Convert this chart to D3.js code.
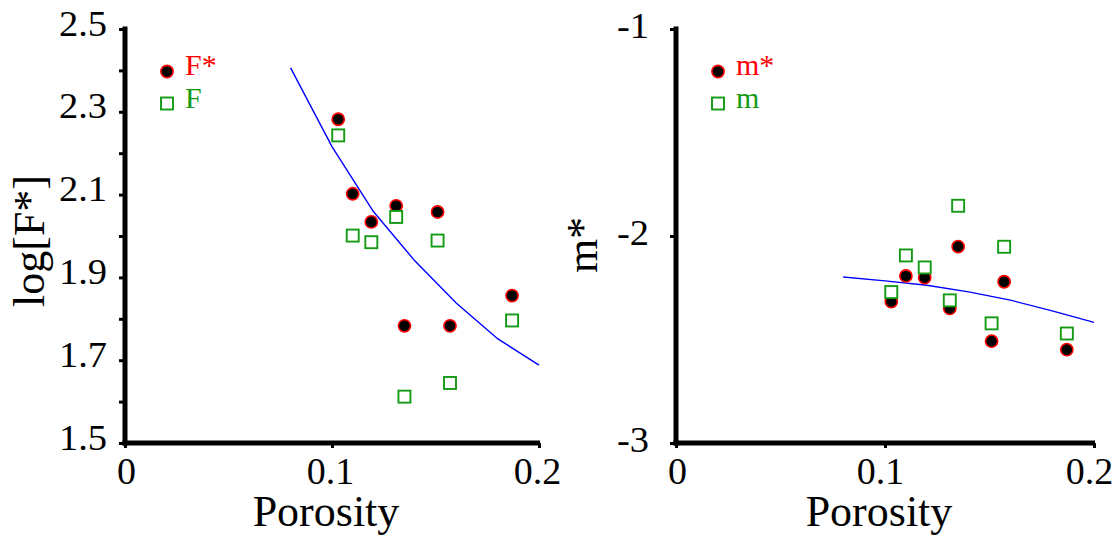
<!DOCTYPE html>
<html>
<head>
<meta charset="utf-8">
<script src="https://cdn.jsdelivr.net/npm/d3@7/dist/d3.min.js"></script>
<style>
  html, body { margin: 0; padding: 0; background: #fff; }
  svg { display: block; font-family: "Liberation Serif", "Times New Roman", Times, serif; }
  svg text { font-family: "Liberation Serif", "Times New Roman", Times, serif; }
</style>
</head>
<body>
<svg id="chart" width="1116" height="537"></svg>
<script>
// ---- data ----
const porosity = [0.103, 0.110, 0.119, 0.131, 0.135, 0.151, 0.157, 0.187];
const fStar = [2.282, 2.102, 2.034, 2.073, 1.783, 2.058, 1.783, 1.856];
const fVals = [2.243, 2.001, 1.985, 2.046, 1.612, 1.989, 1.645, 1.796];
const mStar = [-2.317, -2.193, -2.201, -2.350, -2.051, -2.508, -2.221, -2.549];
const mVals = [-2.271, -2.094, -2.152, -2.311, -1.854, -2.422, -2.052, -2.471];

const fitPorosity = [0.08, 0.10, 0.12, 0.14, 0.16, 0.18, 0.20];
const fFit = [2.406, 2.216, 2.059, 1.940, 1.838, 1.752, 1.688];
const mFit = [-2.198, -2.217, -2.238, -2.270, -2.310, -2.362, -2.417];

const xTicks = [0, 0.1, 0.2];
const leftYTicks = [1.5, 1.6, 1.7, 1.8, 1.9, 2.0, 2.1, 2.2, 2.3, 2.4, 2.5];
const leftYLabels = ["1.5", "1.7", "1.9", "2.1", "2.3", "2.5"];
const rightYTicks = [-3, -2, -1];

const leftLegend = ["F*", "F"];
const rightLegend = ["m*", "m"];

// ---- drawing ----
const svg = d3.select("#chart");
const FONT = "Liberation Serif, Times New Roman, Times, serif";
const RED = "#ff0000", GREEN = "#139b13", BLUE = "#0000ff";
const SXY = 1.1;  // horizontal stretch of y tick labels seen in the reference

function panel(cfg) {
  const x = d3.scaleLinear().domain([0, 0.2]).range([cfg.x0, cfg.x1]);
  const y = d3.scaleLinear().domain(cfg.yDomain).range([443, 29]);
  const g = svg.append("g");

  // fit line
  g.append("path")
    .datum(fitPorosity.map((p, i) => [p, cfg.fit[i]]))
    .attr("fill", "none").attr("stroke", BLUE).attr("stroke-width", 1.4)
    .attr("d", d3.line().x(d => x(d[0])).y(d => y(d[1])));

  // circles (starred)
  g.selectAll("circle.pt").data(porosity).join("circle")
    .attr("class", "pt")
    .attr("cx", d => x(d)).attr("cy", (d, i) => y(cfg.star[i]))
    .attr("r", 6.1).attr("fill", "#000").attr("stroke", RED).attr("stroke-width", 1.6);

  // squares
  const s = 12;
  g.selectAll("rect.pt").data(porosity).join("rect")
    .attr("class", "pt")
    .attr("x", d => x(d) - s / 2).attr("y", (d, i) => y(cfg.vals[i]) - s / 2)
    .attr("width", s).attr("height", s)
    .attr("fill", "#fff").attr("stroke", GREEN).attr("stroke-width", 1.9);

  // y axis
  const ya = d3.axisLeft(y).tickValues(cfg.yTicks).tickSize(6).tickSizeOuter(0)
    .tickPadding(cfg.yPad).tickFormat(cfg.yFormat);
  const yg = g.append("g").attr("transform", `translate(${cfg.x0},0)`).call(ya)
    .attr("font-family", FONT);
  yg.select(".domain").attr("stroke", "#000").attr("stroke-width", 5)
    .attr("d", `M0,${26.5}V${445.5}`);
  yg.selectAll(".tick line").attr("stroke", "#000").attr("stroke-width", 3);
  yg.selectAll(".tick text").attr("font-size", 35).attr("dy", 0).attr("y", cfg.yDy)
    .attr("x", -(6 + cfg.yPad) / SXY).attr("transform", `scale(${SXY},1)`)
    .attr("font-family", FONT).attr("fill", "#000");

  // x axis
  const xa = d3.axisBottom(x).tickValues(xTicks).tickSize(5).tickSizeOuter(0)
    .tickFormat(d => d === 0 ? "0" : d3.format(".1f")(d));
  const xg = g.append("g").attr("transform", "translate(0,443)").call(xa)
    .attr("font-family", FONT);
  xg.select(".domain").attr("stroke", "#000").attr("stroke-width", 5)
    .attr("d", `M${cfg.x0 - 2.5},0H${cfg.x1 + 1}`);
  xg.selectAll(".tick line").attr("stroke", "#000").attr("stroke-width", 3);
  xg.selectAll(".tick text").attr("font-size", 38).attr("dy", 0).attr("y", 41)
    .attr("x", (d, i) => i === 0 ? 1 : cfg.xLabShift)
    .attr("font-family", FONT).attr("fill", "#000");

  // axis titles
  g.append("text").attr("x", (cfg.x0 + cfg.x1) / 2 - 6).attr("y", 526)
    .attr("text-anchor", "middle").attr("font-size", 44).attr("font-family", FONT).text("Porosity");
  g.append("text")
    .attr("transform", `translate(${cfg.titleX},${cfg.titleY}) rotate(-90)`)
    .attr("text-anchor", "middle").attr("font-size", 44).attr("font-family", FONT).text(cfg.title);

  // legend
  const lx = cfg.x0 + 42;
  g.append("circle").attr("cx", lx).attr("cy", 71.5).attr("r", 6.1)
    .attr("fill", "#000").attr("stroke", RED).attr("stroke-width", 1.6);
  g.append("rect").attr("x", lx - s / 2).attr("y", 103.5 - s / 2).attr("width", s).attr("height", s)
    .attr("fill", "#fff").attr("stroke", GREEN).attr("stroke-width", 1.9);
  g.append("text").attr("x", lx + 18).attr("y", 75).attr("font-size", 30).attr("font-family", FONT)
    .attr("fill", RED).text(cfg.legend[0]);
  g.append("text").attr("x", lx + 18).attr("y", 108).attr("font-size", 30).attr("font-family", FONT)
    .attr("fill", GREEN).text(cfg.legend[1]);
}

panel({
  x0: 125, x1: 539, yDomain: [1.5, 2.5],
  star: fStar, vals: fVals, fit: fFit,
  yTicks: leftYTicks, yPad: 12, yDy: 6, xLabShift: -2,
  yFormat: d => { const t = d3.format(".1f")(d); return leftYLabels.includes(t) ? t : ""; },
  title: "log[F*]", titleX: 44, titleY: 241, legend: leftLegend
});

panel({
  x0: 676, x1: 1094, yDomain: [-3, -1],
  star: mStar, vals: mVals, fit: mFit,
  yTicks: rightYTicks, yPad: 21, yDy: 8, xLabShift: -5,
  yFormat: d => "-" + Math.abs(d),
  title: "m*", titleX: 597, titleY: 245, legend: rightLegend
});
</script>
</body>
</html>
